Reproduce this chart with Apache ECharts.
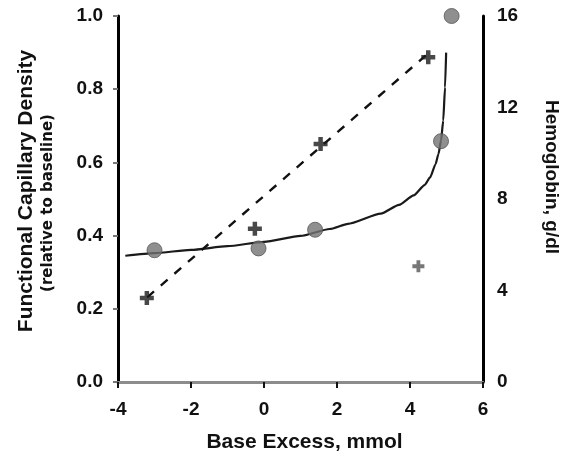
<!DOCTYPE html>
<html>
<head>
<meta charset="utf-8">
<script src="https://cdn.jsdelivr.net/npm/echarts@6/dist/echarts.min.js"></script>
<style>
html,body{margin:0;padding:0;background:#fff;}
#chart{width:564px;height:455px;}
</style>
</head>
<body>
<div id="chart"></div>
<script>
// Functional capillary density (relative to baseline), left axis
var fcdPoints = [[-3.0, 0.36], [-0.15, 0.365], [1.4, 0.416], [4.85, 0.658], [5.14, 1.0]];
// Fitted FCD curve (solid line)
var fcdCurveX = [-3.8, -3.0, -2.0, -1.0, 0.0, 1.0, 1.8, 2.3, 3.2, 3.7, 4.1, 4.4, 4.55, 4.7, 4.78, 4.85, 4.91, 4.96, 4.99];
var fcdCurveY = [0.345, 0.352, 0.361, 0.371, 0.383, 0.399, 0.418, 0.432, 0.460, 0.484, 0.510, 0.538, 0.559, 0.595, 0.623, 0.660, 0.714, 0.805, 0.900];
// Hemoglobin g/dl, right axis (crosses)
var hbPoints = [[-3.21, 3.67], [-0.25, 6.7], [1.55, 10.4], [4.5, 14.2], [4.23, 5.06]];
// Hemoglobin regression line (dashed) end points
var hbFitX = [-3.2, 4.45];
var hbFitY = [3.7, 14.3];
// Axis ticks
var xTicks = [-4, -2, 0, 2, 4, 6];
var yLeftTicks = [0, 0.2, 0.4, 0.6, 0.8, 1.0];
var yRightTicks = [0, 4, 8, 12, 16];

var FONT = '"Liberation Sans", Arial, sans-serif';
var chart = echarts.init(document.getElementById('chart'), null, {renderer: 'canvas'});

var crossPath = 'path://M3.4,0H6.6V3.4H10V6.6H6.6V10H3.4V6.6H0V3.4H3.4Z';

var option = {
  backgroundColor: '#fff',
  animation: false,
  grid: {left: 118, right: 81, top: 16, bottom: 73, containLabel: false, outerBoundsMode: 'none'},
  xAxis: {
    type: 'value', min: xTicks[0], max: xTicks[xTicks.length - 1], interval: 2,
    splitLine: {show: false},
    axisLine: {show: true, lineStyle: {color: '#8c8c8c', width: 3}},
    axisTick: {show: true, length: 6, inside: false, lineStyle: {color: '#111', width: 2}},
    axisLabel: {margin: 18, color: '#111', fontFamily: FONT, fontWeight: 'bold', fontSize: 19},
    name: 'Base Excess, mmol', nameLocation: 'middle', nameGap: 50,
    nameTextStyle: {color: '#111', fontFamily: FONT, fontWeight: 'bold', fontSize: 21, padding: [0, 0, 0, 8]}
  },
  yAxis: [{
    type: 'value', min: 0, max: 1, interval: 0.2, position: 'left',
    splitLine: {show: false},
    axisLine: {show: true, onZero: false, lineStyle: {color: '#000', width: 3}},
    axisTick: {show: true, length: 5, lineStyle: {color: '#777', width: 2}},
    axisLabel: {margin: 15, color: '#111', fontFamily: FONT, fontWeight: 'bold', fontSize: 19,
      formatter: function (v) { return v.toFixed(1); }}
  }, {
    type: 'value', min: 0, max: 16, interval: 4, position: 'right',
    splitLine: {show: false},
    axisLine: {show: true, onZero: false, lineStyle: {color: '#000', width: 3}},
    axisTick: {show: false},
    axisLabel: {margin: 14, color: '#111', fontFamily: FONT, fontWeight: 'bold', fontSize: 19}
  }],
  graphic: [
    {type: 'text', x: 26, y: 191, rotation: Math.PI / 2,
      style: {text: 'Functional Capillary Density', fill: '#111', font: 'bold 21px ' + FONT, align: 'center', verticalAlign: 'middle'}},
    {type: 'text', x: 48, y: 203, rotation: Math.PI / 2,
      style: {text: '(relative to baseline)', fill: '#111', font: 'bold 15px "DejaVu Sans", sans-serif', align: 'center', verticalAlign: 'middle'}},
    {type: 'text', x: 551, y: 177, rotation: -Math.PI / 2,
      style: {text: 'Hemoglobin, g/dl', fill: '#111', font: 'bold 19px ' + FONT, align: 'center', verticalAlign: 'middle'}}
  ],
  series: [
    {
      type: 'line', yAxisIndex: 0, smooth: 0.2, smoothMonotone: 'x', showSymbol: false, symbol: 'none',
      data: fcdCurveX.map(function (x, i) { return [x, fcdCurveY[i]]; }),
      lineStyle: {color: '#1a1a1a', width: 2.2}, z: 2
    },
    {
      type: 'line', yAxisIndex: 1, showSymbol: false, symbol: 'none',
      data: hbFitX.map(function (x, i) { return [x, hbFitY[i]]; }),
      lineStyle: {color: '#111', width: 2.4, type: [9, 9]}, z: 2
    },
    {
      type: 'scatter', yAxisIndex: 0, symbol: 'circle', symbolSize: 15,
      data: fcdPoints,
      itemStyle: {color: '#737373', borderColor: '#555', borderWidth: 1}, z: 3
    },
    {
      type: 'scatter', yAxisIndex: 1, symbol: crossPath, symbolSize: 14,
      data: hbPoints.map(function (p, i) {
        return i === hbPoints.length - 1 ? {value: p, symbolSize: 12, itemStyle: {color: '#555'}} : p;
      }),
      itemStyle: {color: '#1a1a1a'}, z: 3
    }
  ]
};
chart.setOption(option);
</script>
</body>
</html>
